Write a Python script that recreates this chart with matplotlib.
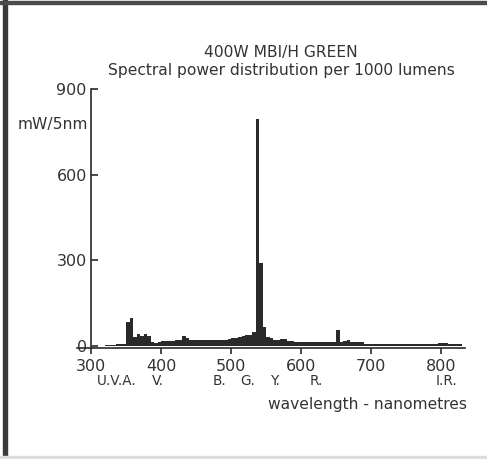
import numpy as np
import matplotlib.pyplot as plt
from matplotlib.patches import Rectangle

# spectral power, 5 nm bins (left edge of bin), mW/5nm per 1000 lumens
wl = np.arange(320, 830, 5)
power = [3, 4, 5, 6, 7, 8, 85, 100, 32, 42,
         35, 42, 35, 14, 12, 14, 18, 17, 18, 19,
         20, 23, 34, 30, 23, 22, 21, 23, 21, 20,
         20, 20, 21, 22, 23, 25, 28, 30, 33, 36,
         38, 40, 48, 795, 290, 66, 33, 30, 23, 21,
         25, 25, 18, 17, 16, 16, 15, 15, 14, 14,
         14, 13, 13, 13, 13, 13, 56, 15, 17, 21,
         16, 15, 15, 14, 8, 8, 8, 8, 8, 8,
         8, 8, 8, 8, 8, 8, 8, 8, 8, 8,
         8, 9, 9, 9, 9, 10, 12, 10, 9, 9,
         9, 9]

yticks = [0, 300, 600, 900]
xticks = [300, 400, 500, 600, 700, 800]
band_labels = ['U.V.A.', 'V.', 'B.', 'G.', 'Y.', 'R.', 'I.R.']
band_pos = [337, 396, 483, 523, 563, 621, 807]

ink = '#2a2a2a'
txt = '#333333'
plt.rcParams['font.family'] = 'DejaVu Sans'

fig = plt.figure(figsize=(4.87, 4.59), dpi=100)
ax = fig.add_axes([77 / 487, (459 - 347.5) / 459, (465 - 77) / 487, (347.5 - 89) / 459])

ax.bar(wl, power[:len(wl)], width=5, align='edge', color=ink, linewidth=0)

ax.set_xlim(280, 834)
ax.set_ylim(-5, 900)

ax.spines['top'].set_visible(False)
ax.spines['right'].set_visible(False)
ax.spines['left'].set_position(('data', 300))
ax.spines['left'].set_bounds(-5, 900)
for s in ['left', 'bottom']:
    ax.spines[s].set_color(ink)
    ax.spines[s].set_linewidth(1.2)

ax.set_yticks(yticks)
ax.set_xticks(xticks)
ax.tick_params(axis='y', direction='in', length=5, width=1.2, pad=3,
               color=ink, labelcolor=txt, labelsize=11.5)
ax.tick_params(axis='x', direction='out', length=4, width=1.2, pad=4,
               color=ink, labelcolor=txt, labelsize=11.5)

# wavelength band letters
for lab, x in zip(band_labels, band_pos):
    ax.text(x, -0.13, lab, transform=ax.get_xaxis_transform(),
            ha='center', va='center', fontsize=9.8, color=txt)

fig.text(88 / 487, 1 - 125 / 459, 'mW/5nm', ha='right', va='center',
         fontsize=11.2, color=txt)
fig.text(281 / 487, 1 - 52 / 459, '400W MBI/H GREEN', ha='center', va='center',
         fontsize=11.2, color=txt)
fig.text(281 / 487, 1 - 71 / 459, 'Spectral power distribution per 1000 lumens',
         ha='center', va='center', fontsize=11.2, color=txt)
fig.text(467 / 487, 1 - 404 / 459, 'wavelength - nanometres', ha='right',
         va='center', fontsize=11.2, color=txt)

# scanned page border
fig.patches.append(Rectangle((3 / 487, 0), 4 / 487, 1, transform=fig.transFigure,
                             color='#3a3a3a', zorder=5))
fig.patches.append(Rectangle((0, 1 - 4 / 459), 1, 3 / 459, transform=fig.transFigure,
                             color='#4a4a4a', zorder=5))
fig.patches.append(Rectangle((0, 0), 1, 3 / 459, transform=fig.transFigure,
                             color='#dddddd', zorder=5))

fig.savefig('out.png', dpi=100)
